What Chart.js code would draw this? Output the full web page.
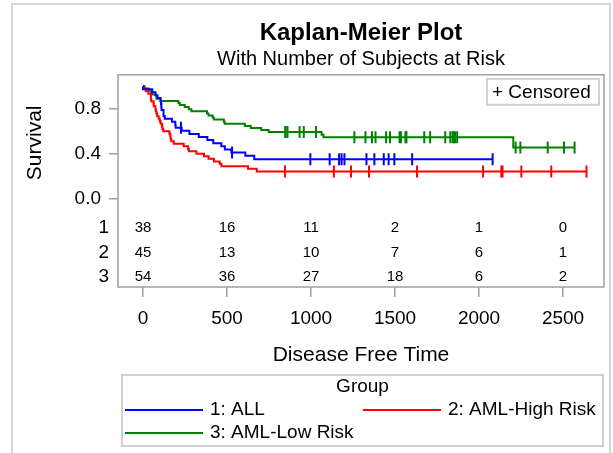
<!DOCTYPE html>
<html>
<head>
<meta charset="utf-8">
<script src="https://cdn.jsdelivr.net/npm/chart.js@4.4.1/dist/chart.umd.min.js"></script>
<style>
  html, body { margin: 0; padding: 0; background: #fff; }
  #wrap { position: relative; width: 613px; height: 453px; overflow: hidden; }
  #frame { position: absolute; left: 11px; top: 3px; width: 596px; height: 500px; border: 2px solid #d6d6d6; }
  canvas { position: absolute; left: 0; top: 0; }
</style>
</head>
<body>
<div id="wrap">
  <div id="frame"></div>
  <canvas id="km" width="613" height="453"></canvas>
</div>
<script>
// Kaplan-Meier curves, disease free time by group

const groupNames = ['1: ALL', '2: AML-High Risk', '3: AML-Low Risk'];
const groupColors = ['#0000ff', '#ff0000', '#008000'];

// step points (time, survival) for each curve
const allTime = [0, 1, 55, 74, 86, 104, 107, 109, 110, 122, 129, 172, 192, 194, 230, 276, 332, 383, 418, 466, 487, 526, 609, 662, 2081];
const allSurv = [1, 0.974, 0.947, 0.921, 0.895, 0.868, 0.842, 0.816, 0.789, 0.737, 0.711, 0.684, 0.658, 0.632, 0.604, 0.577, 0.549, 0.522, 0.494, 0.467, 0.439, 0.412, 0.382, 0.353, 0.353];

const highTime = [0, 2, 16, 32, 47, 48, 63, 64, 74, 76, 80, 84, 93, 100, 105, 113, 115, 120, 157, 162, 164, 168, 183, 242, 268, 273, 318, 363, 390, 422, 456, 467, 625, 677, 2640];
const highSurv = [1, 0.978, 0.956, 0.933, 0.889, 0.867, 0.844, 0.822, 0.800, 0.778, 0.756, 0.733, 0.711, 0.689, 0.667, 0.644, 0.622, 0.600, 0.578, 0.556, 0.533, 0.511, 0.489, 0.467, 0.444, 0.422, 0.400, 0.378, 0.356, 0.333, 0.311, 0.289, 0.267, 0.244, 0.244];

const lowTime = [0, 10, 35, 48, 53, 79, 80, 105, 211, 219, 248, 272, 288, 381, 390, 414, 421, 481, 486, 606, 641, 704, 748, 1063, 1074, 2204, 2569];
const lowSurv = [1, 0.981, 0.963, 0.944, 0.926, 0.907, 0.889, 0.870, 0.852, 0.833, 0.815, 0.796, 0.778, 0.759, 0.741, 0.722, 0.704, 0.685, 0.667, 0.648, 0.630, 0.611, 0.593, 0.570, 0.547, 0.456, 0.456];

// censored observations
const allCensTime = [226, 530, 996, 1111, 1167, 1182, 1199, 1330, 1377, 1433, 1462, 1496, 1602, 2081];
const allCensSurv = [0.632, 0.412, 0.353, 0.353, 0.353, 0.353, 0.353, 0.353, 0.353, 0.353, 0.353, 0.353, 0.353, 0.353];

const highCensTime = [845, 1136, 1238, 1345, 1631, 2024, 2133, 2140, 2252, 2430, 2640];
const highCensSurv = [0.244, 0.244, 0.244, 0.244, 0.244, 0.244, 0.244, 0.244, 0.244, 0.244, 0.244];

const lowCensTime = [847, 848, 860, 932, 957, 1030, 1258, 1324, 1363, 1384, 1447, 1470, 1527, 1535, 1562, 1568, 1674, 1709, 1799, 1829, 1843, 1850, 1857, 1870, 2218, 2246, 2409, 2506, 2569];
const lowCensSurv = [0.593, 0.593, 0.593, 0.593, 0.593, 0.593,
  0.547, 0.547, 0.547, 0.547, 0.547, 0.547, 0.547, 0.547, 0.547, 0.547, 0.547, 0.547, 0.547, 0.547, 0.547, 0.547, 0.547, 0.547,
  0.456, 0.456, 0.456, 0.456, 0.456];

// number at risk table
const riskTimes = [0, 500, 1000, 1500, 2000, 2500];
const riskAll = [38, 16, 11, 2, 1, 0];
const riskHigh = [45, 13, 10, 7, 6, 1];
const riskLow = [54, 36, 27, 18, 6, 2];
const riskRows = ['1', '2', '3'];

const xTicks = [0, 500, 1000, 1500, 2000, 2500];
const yTicks = [0, 0.4, 0.8];

const pts = (xs, ys) => xs.map((x, i) => ({ x: x, y: ys[i] }));

Chart.defaults.font.family = '"Liberation Sans", Arial, sans-serif';
Chart.defaults.color = '#000';

const axisGray = '#a0a0a0';

function censDataset(xs, ys, color) {
    return {
        type: 'scatter',
        data: pts(xs, ys),
        xAxisID: 'x',
        yAxisID: 'y',
        pointStyle: 'line',
        rotation: 90,
        radius: 6,
        borderWidth: 2,
        borderColor: color,
        backgroundColor: color,
        showLine: false
    };
}

function curveDataset(xs, ys, color) {
    return {
        type: 'line',
        data: pts(xs, ys),
        xAxisID: 'x',
        yAxisID: 'y',
        stepped: true,
        borderColor: color,
        borderWidth: 2,
        pointRadius: 0,
        fill: false
    };
}

// frame around plot + risk table, and the censored key
const framePlugin = {
    id: 'plotFrame',
    afterDatasetsDraw(chart) {
        const { ctx, chartArea: a } = chart;
        ctx.save();
        ctx.strokeStyle = axisGray;
        ctx.lineWidth = 1.5;
        ctx.strokeRect(a.left, a.top, a.right - a.left, a.bottom - a.top);

        const bw = 112, bh = 26;
        const bx = a.right - 5 - bw, by = a.top + 4;
        ctx.strokeStyle = '#d0d0d0';
        ctx.lineWidth = 2;
        ctx.strokeRect(bx, by, bw, bh);
        ctx.fillStyle = '#000';
        ctx.font = '19px "Liberation Sans", Arial, sans-serif';
        ctx.textBaseline = 'middle';
        ctx.textAlign = 'left';
        ctx.fillText('+ Censored', bx + 5, by + bh / 2 + 1);
        ctx.restore();
    }
};

const riskPlugin = {
    id: 'riskTable',
    afterDraw(chart) {
        const { ctx } = chart;
        const xs = chart.scales.x, ys = chart.scales.y2;
        const rows = [riskAll, riskHigh, riskLow];
        ctx.save();
        ctx.fillStyle = '#000';
        ctx.font = '15px "Liberation Sans", Arial, sans-serif';
        ctx.textAlign = 'center';
        ctx.textBaseline = 'middle';
        rows.forEach((row, r) => {
            row.forEach((n, j) => {
                ctx.fillText(String(n), xs.getPixelForValue(riskTimes[j]), ys.getPixelForValue(r + 1));
            });
        });
        ctx.restore();
    }
};

const legendPlugin = {
    id: 'groupLegend',
    afterDraw(chart) {
        const { ctx, chartArea: a } = chart;
        const L = a.left + 4, R = a.right - 1, T = a.bottom + 88, H = 71;
        ctx.save();
        ctx.strokeStyle = '#d0d0d0';
        ctx.lineWidth = 2;
        ctx.strokeRect(L, T, R - L, H);
        ctx.fillStyle = '#000';
        ctx.font = '19px "Liberation Sans", Arial, sans-serif';
        ctx.textBaseline = 'middle';
        ctx.textAlign = 'center';
        ctx.fillText('Group', (L + R) / 2, T + 12);
        ctx.textAlign = 'left';
        const slots = [[L + 3, T + 35], [L + 241, T + 35], [L + 3, T + 58]];
        groupNames.forEach((name, i) => {
            const [sx, sy] = slots[i];
            ctx.strokeStyle = groupColors[i];
            ctx.lineWidth = 2;
            ctx.beginPath();
            ctx.moveTo(sx, sy);
            ctx.lineTo(sx + 78, sy);
            ctx.stroke();
            ctx.fillText(name, sx + 85, sy);
        });
        ctx.restore();
    }
};

const ctx = document.getElementById('km').getContext('2d');
new Chart(ctx, {
    type: 'line',
    data: {
        datasets: [
            censDataset(allCensTime, allCensSurv, groupColors[0]),
            censDataset(highCensTime, highCensSurv, groupColors[1]),
            censDataset(lowCensTime, lowCensSurv, groupColors[2]),
            curveDataset(allTime, allSurv, groupColors[0]),
            curveDataset(highTime, highSurv, groupColors[1]),
            curveDataset(lowTime, lowSurv, groupColors[2])
        ]
    },
    options: {
        responsive: false,
        animation: false,
        layout: { padding: { left: 0, right: 9, top: 0, bottom: 84 } },
        plugins: {
            legend: { display: false },
            tooltip: { enabled: false },
            title: {
                display: true,
                fullSize: false,
                text: 'Kaplan-Meier Plot',
                color: '#000',
                font: { size: 24, weight: 'bold' },
                padding: { top: 19, bottom: 0 }
            },
            subtitle: {
                display: true,
                fullSize: false,
                text: 'With Number of Subjects at Risk',
                color: '#000',
                font: { size: 20 },
                padding: { top: 0, bottom: 3 }
            }
        },
        scales: {
            // risk table rows (defined first so it sits below the survival axis in the stack)
            y2: {
                type: 'linear',
                position: 'left',
                stack: 'km',
                stackWeight: 76,
                min: 0.306,
                max: 3.408,
                reverse: true,
                afterBuildTicks: s => { s.ticks = riskRows.map((_, i) => ({ value: i + 1 })); },
                afterFit: s => { s.width = 118; },
                border: { display: false },
                grid: { display: false, drawTicks: false },
                ticks: { font: { size: 19 }, padding: 9, autoSkip: false, callback: v => riskRows[v - 1] }
            },
            y: {
                type: 'linear',
                position: 'left',
                stack: 'km',
                stackWeight: 136,
                min: -0.107,
                max: 1.102,
                afterBuildTicks: s => { s.ticks = yTicks.map(v => ({ value: v })); },
                afterFit: s => { s.width = 118; },
                border: { display: false },
                grid: { drawOnChartArea: false, color: axisGray, lineWidth: 1.5, tickLength: 9 },
                ticks: { font: { size: 19 }, padding: 8, autoSkip: false, callback: v => Number(v).toFixed(1) },
                title: { display: true, text: 'Survival', font: { size: 21 }, padding: { top: 23, bottom: 0 } }
            },
            x: {
                type: 'linear',
                min: -149,
                max: 2744,
                afterBuildTicks: s => { s.ticks = xTicks.map(v => ({ value: v })); },
                afterFit: s => { s.height = 82; },
                border: { display: false },
                grid: { drawOnChartArea: false, color: axisGray, lineWidth: 1.5, tickLength: 10 },
                ticks: { font: { size: 19 }, padding: 10, maxRotation: 0, autoSkip: false, callback: v => String(v) },
                title: { display: true, text: 'Disease Free Time', font: { size: 21 }, padding: { top: 0, bottom: 1 } }
            }
        }
    },
    plugins: [framePlugin, riskPlugin, legendPlugin]
});
</script>
</body>
</html>
